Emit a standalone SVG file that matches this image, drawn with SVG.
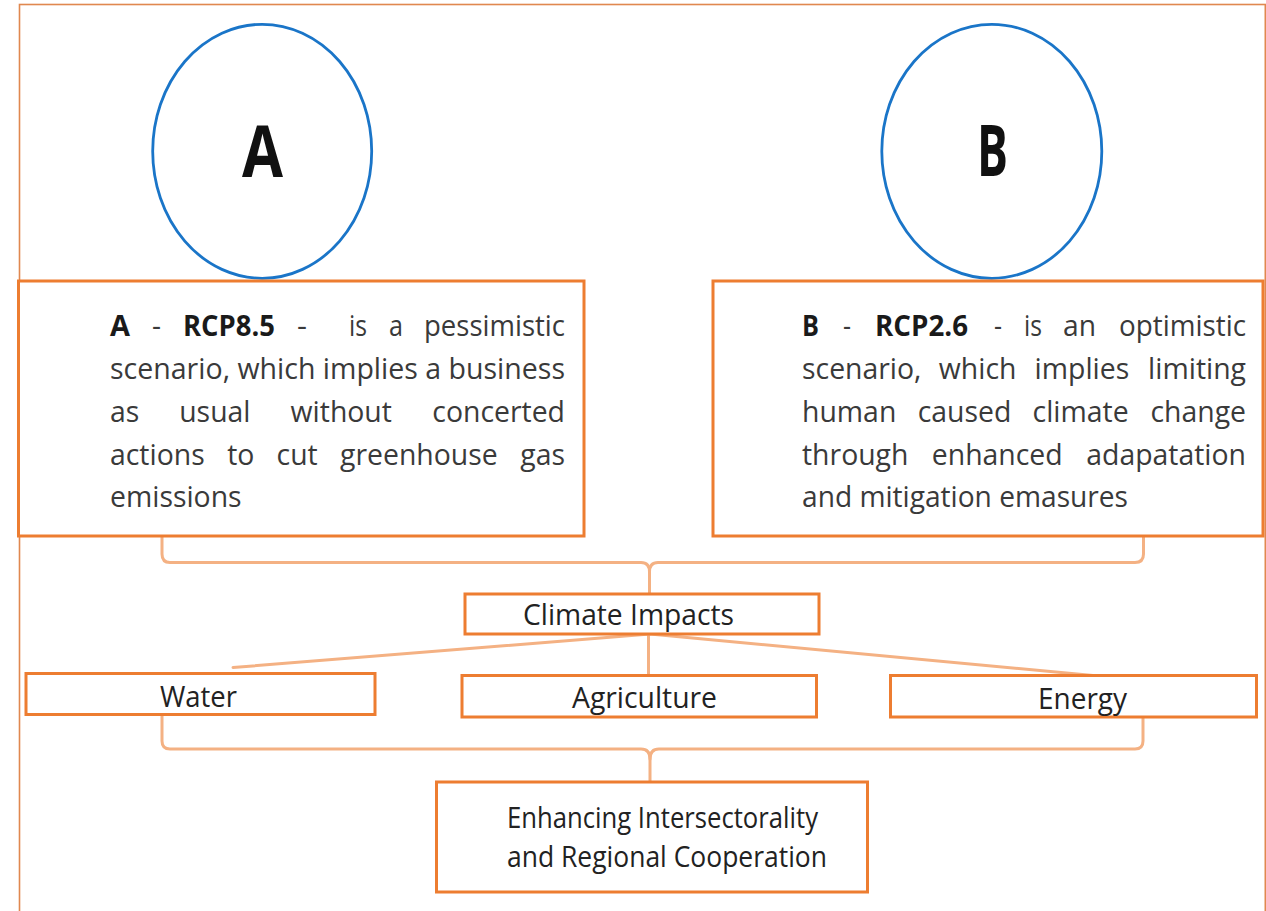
<svg xmlns="http://www.w3.org/2000/svg" width="1266" height="911" viewBox="0 0 1266 911">
<style>
.frame{fill:none;stroke:#E0884F;stroke-width:1.6}
.box{fill:#fff;stroke:#ED7D31;stroke-width:3}
.circ{fill:#fff;stroke:#1A75C8;stroke-width:2.8}
.con{fill:none;stroke:#F4B183;stroke-width:3;stroke-linecap:round;stroke-linejoin:round}
text{font-family:"Open Sans","Liberation Sans",sans-serif}
.big{font-size:71px;font-weight:700;fill:#111}
.body{font-size:28.4px;fill:#3a3a3a}
.b{font-weight:700;fill:#1a1a1a}
.e{text-anchor:end}
.lbl{font-size:29px;fill:#222}
</style>
<rect class="frame" x="19.5" y="4.5" width="1245.8" height="930"/>
<g id="connectors">
<path class="con" d="M162,529 V554 Q162,562.5 170,562.5 H641 Q649.5,562.5 649.5,572 V593"/>
<path class="con" d="M1143.5,529 V554 Q1143.5,562.5 1135,562.5 H658 Q649.5,562.5 649.5,572"/>
<path class="con" d="M650,634 L233,667.5"/>
<path class="con" d="M650,634 L1093,675.5"/>
<path class="con" d="M648.5,634 V675"/>
<path class="con" d="M162,713 V741 Q162,749 170,749 H641 Q650,749 650,759 V782"/>
<path class="con" d="M1143,713 V741 Q1143,749 1135,749 H659 Q650,749 650,759"/>
</g>
<g id="circleA">
<ellipse class="circ" cx="262.2" cy="151.3" rx="109.5" ry="127"/>
<text class="big" x="242" y="177" textLength="41" lengthAdjust="spacingAndGlyphs">A</text>
</g>
<g id="circleB">
<ellipse class="circ" cx="991.8" cy="151.3" rx="110" ry="127"/>
<text class="big" x="977" y="175.5" textLength="31" lengthAdjust="spacingAndGlyphs">B</text>
</g>
<g id="boxA">
<rect class="box" x="18.5" y="281" width="565.5" height="255"/>
<g class="body">
<text class="b" x="110" y="336" textLength="20" lengthAdjust="spacingAndGlyphs">A</text>
<text x="152" y="336" textLength="9" lengthAdjust="spacingAndGlyphs">-</text>
<text class="b" x="183" y="336" textLength="92" lengthAdjust="spacingAndGlyphs">RCP8.5</text>
<text x="297" y="336" textLength="10" lengthAdjust="spacingAndGlyphs">-</text>
<text x="349" y="336" textLength="18" lengthAdjust="spacingAndGlyphs">is</text>
<text x="389" y="336" textLength="14" lengthAdjust="spacingAndGlyphs">a</text>
<text x="424" y="336" textLength="141" lengthAdjust="spacingAndGlyphs">pessimistic</text>
<text x="110" y="378.5" textLength="455" lengthAdjust="spacingAndGlyphs">scenario, which implies a business</text>
<text x="110" y="421.5">as</text>
<text x="179.2" y="421.5">usual</text>
<text x="290.6" y="421.5">without</text>
<text class="e" x="565" y="421.5">concerted</text>
<text x="110" y="464.5">actions</text>
<text x="227.2" y="464.5">to</text>
<text x="276.6" y="464.5">cut</text>
<text x="340" y="464.5">greenhouse</text>
<text class="e" x="565" y="464.5">gas</text>
<text x="110" y="507">emissions</text>
</g>
</g>
<g id="boxB">
<rect class="box" x="713" y="281" width="550" height="255"/>
<g class="body">
<text class="b" x="802" y="335.5" textLength="17" lengthAdjust="spacingAndGlyphs">B</text>
<text x="843" y="335.5" textLength="8" lengthAdjust="spacingAndGlyphs">-</text>
<text class="b" x="875" y="335.5" textLength="93" lengthAdjust="spacingAndGlyphs">RCP2.6</text>
<text x="994" y="335.5" textLength="8" lengthAdjust="spacingAndGlyphs">-</text>
<text x="1024" y="335.5" textLength="18" lengthAdjust="spacingAndGlyphs">is</text>
<text x="1063" y="335.5" textLength="33" lengthAdjust="spacingAndGlyphs">an</text>
<text x="1119" y="335.5" textLength="127" lengthAdjust="spacingAndGlyphs">optimistic</text>
<text x="802" y="378.5">scenario,</text>
<text x="938.8" y="378.5">which</text>
<text x="1034.6" y="378.5">implies</text>
<text class="e" x="1246" y="378.5">limiting</text>
<text x="802" y="421.5">human</text>
<text x="917.7" y="421.5">caused</text>
<text x="1032.6" y="421.5">climate</text>
<text class="e" x="1246" y="421.5">change</text>
<text x="802" y="464.5">through</text>
<text x="931.8" y="464.5">enhanced</text>
<text class="e" x="1246" y="464.5">adapatation</text>
<text x="802" y="507" textLength="326" lengthAdjust="spacingAndGlyphs">and mitigation emasures</text>
</g>
</g>
<g id="climate">
<rect class="box" x="465" y="594" width="354" height="40"/>
<text class="lbl" x="523" y="625" textLength="211" lengthAdjust="spacingAndGlyphs">Climate Impacts</text>
</g>
<g id="water">
<rect class="box" x="26" y="673.5" width="349" height="41"/>
<text class="lbl" x="160" y="707" textLength="77" lengthAdjust="spacingAndGlyphs">Water</text>
</g>
<g id="agriculture">
<rect class="box" x="462" y="675.5" width="354.5" height="41.5"/>
<text class="lbl" x="572" y="708" textLength="145" lengthAdjust="spacingAndGlyphs">Agriculture</text>
</g>
<g id="energy">
<rect class="box" x="890.5" y="675.5" width="366" height="41.5"/>
<text class="lbl" x="1038" y="709" textLength="89" lengthAdjust="spacingAndGlyphs">Energy</text>
</g>
<g id="enhancing">
<rect class="box" x="436.5" y="782" width="431" height="110"/>
<text class="lbl" x="507" y="828" textLength="311" lengthAdjust="spacingAndGlyphs">Enhancing Intersectorality</text>
<text class="lbl" x="507" y="867" textLength="320" lengthAdjust="spacingAndGlyphs">and Regional Cooperation</text>
</g>
</svg>
